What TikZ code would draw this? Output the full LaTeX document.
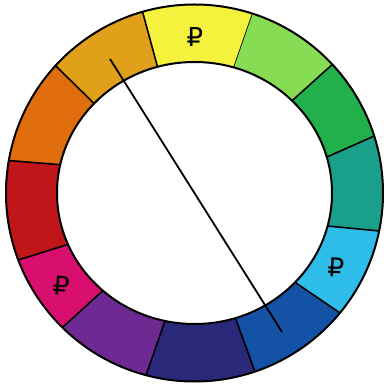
\documentclass[tikz,border=0pt]{standalone}
\usepackage{fontspec}
\newfontfamily\signfont{DejaVu Sans}
\usepackage{tikz}

\definecolor{wyellow}{HTML}{F4F23C}
\definecolor{wgold}{HTML}{E0A01A}
\definecolor{worange}{HTML}{E06E0E}
\definecolor{wred}{HTML}{C0161A}
\definecolor{wmagenta}{HTML}{D80F6E}
\definecolor{wpurple}{HTML}{6E2A92}
\definecolor{wnavy}{HTML}{2A2878}
\definecolor{wblue}{HTML}{1452A6}
\definecolor{wcyan}{HTML}{2EBDE8}
\definecolor{wteal}{HTML}{1AA08A}
\definecolor{wgreen}{HTML}{22B04A}
\definecolor{wlime}{HTML}{86DC52}

\tikzset{
  mark sign/.style={font=\signfont\fontsize{26}{26}\selectfont,inner sep=0pt}
}

\begin{document}
\begin{tikzpicture}[x=1pt,y=1pt,line width=2pt]
  \useasboundingbox (-194.5,-194) rectangle (190.5,193);
  % ring segments: outer/inner start angle, outer/inner end angle, colour
  \foreach \ao/\ai/\bo/\bi/\c in {72/73.3/106/105.6/wyellow,
      106/105.6/137.5/136.9/wgold,137.5/136.9/170.1/167.5/worange,
      170.1/167.5/200.8/203.1/wred,200.8/203.1/225.5/228.2/wmagenta,
      225.5/228.2/255.1/257.6/wpurple,255.1/257.6/288.7/287.3/wnavy,
      288.7/287.3/320.5/317/wblue,320.5/317/348.4/345.4/wcyan,
      348.4/345.4/377.6/375.9/wteal,377.6/375.9/403/404.8/wgreen,
      403/404.8/432/433.3/wlime}
  {
    \fill[\c] (\ao:189) arc[start angle=\ao,end angle=\bo,radius=189]
      -- (\bi:137.5 and 131) arc[start angle=\bi,end angle=\ai,x radius=137.5,y radius=131]
      -- cycle;
    \draw[line width=1.6pt] (\ai:137.5 and 131) -- (\ao:189);
  }
  \draw (0,0) circle (188.5);
  \draw (0,0) ellipse (137.5 and 131);
  % marks
  \node[mark sign] (yellowmark) at (0.5,156) {₽};
  \node[mark sign,rotate=-5] (magentamark) at (-132.5,-93) {₽};
  \node[mark sign,rotate=-3] (cyanmark) at (141.5,-74) {₽};
  % complementary axis
  \coordinate (goldend) at (-84.5,134);
  \coordinate (blueend) at (87.5,-139);
  \draw[line width=1.8pt] (goldend) -- (blueend);
\end{tikzpicture}
\end{document}
